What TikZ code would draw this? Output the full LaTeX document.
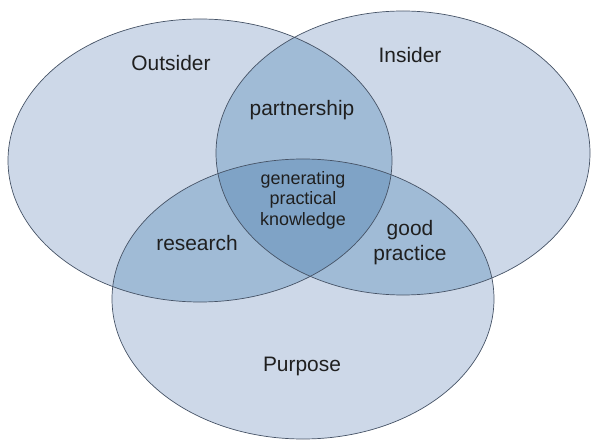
\documentclass[tikz,border=0pt]{standalone}
\usepackage{fontspec}
\setmainfont{Liberation Sans}
\definecolor{vennlight}{HTML}{CDD8E8}
\definecolor{venntwo}{HTML}{A0BBD6}
\definecolor{vennthree}{HTML}{7FA3C6}
\definecolor{vennline}{HTML}{465366}
\def\outsider{(200,160.5) ellipse [x radius=192, y radius=141.5]}
\def\insider{(403,153) ellipse [x radius=187, y radius=142]}
\def\purpose{(303,299) ellipse [x radius=191, y radius=140]}
\begin{document}
\begin{tikzpicture}[x=1bp, y=-1bp,
    big/.style={font=\fontsize{21}{25}\selectfont, text=black!88, align=center},
    small/.style={font=\fontsize{18}{20.5}\selectfont, text=black!88, align=center}]
    \useasboundingbox (0,0) rectangle (594,440);
    \foreach \e in {\outsider,\insider,\purpose}
    \fill[vennlight] \e;
    \begin{scope}
        \clip \outsider;
        \fill[venntwo] \insider;
        \fill[venntwo] \purpose;
    \end{scope}
    \begin{scope}
        \clip \insider;
        \fill[venntwo] \purpose;
    \end{scope}
    \begin{scope}
        \clip \outsider;
        \clip \insider;
        \fill[vennthree] \purpose;
    \end{scope}
    \foreach \e in {\outsider,\insider,\purpose}
    \draw[vennline, line width=0.7bp] \e;
    \node[big] (outsiderlabel) at (171,63) {Outsider};
    \node[big] (insiderlabel) at (410,55) {Insider};
    \node[big] (partnership) at (302,110) {partnership};
    \node[small] (generating) at (303,200) {generating\\practical\\knowledge};
    \node[big] (research) at (197,243) {research};
    \node[big] (goodpractice) at (410,243) {good\\practice};
    \node[big] (purposelabel) at (302,366) {Purpose};
\end{tikzpicture}
\end{document}
